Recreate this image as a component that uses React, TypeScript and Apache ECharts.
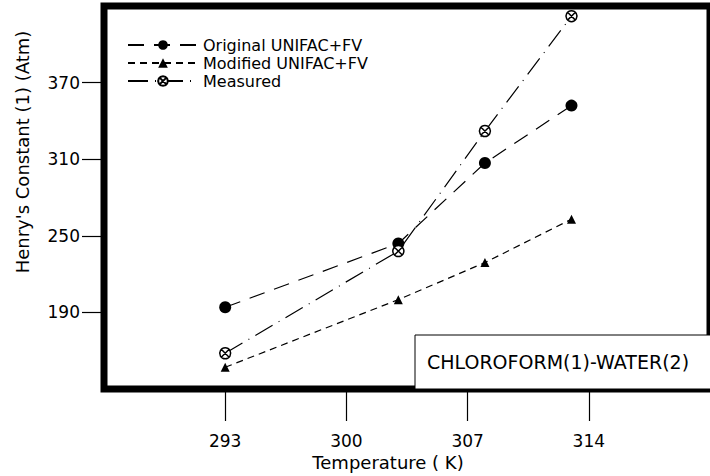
import React, { useEffect, useRef } from "react";
import * as echarts from "echarts";

const temperatures = [293, 303, 308, 313];
const originalValues = [194, 244, 307, 352];
const modifiedValues = [147, 200, 229, 263];
const measuredValues = [158, 238, 332, 422];
const xTickValues = [293, 300, 307, 314];
const yTickValues = [190, 250, 310, 370];

const FONT = "DejaVu Sans";
const measuredSymbol =
  "path://M10,1A9,9,0,1,1,9.99,1Z M3.6,3.6L16.4,16.4M16.4,3.6L3.6,16.4";

const pairs = (vals: number[]) => temperatures.map((t, i) => [t, vals[i]]);

export default function App() {
  const ref = useRef<HTMLDivElement>(null);
  useEffect(() => {
    if (!ref.current) return;
    const chart = echarts.init(ref.current, null, { renderer: "svg" });
    chart.setOption({
      animation: false,
      backgroundColor: "#ffffff",
      textStyle: { fontFamily: FONT, color: "#000" },
      grid: {
        left: 104,
        top: 6,
        width: 610,
        height: 383,
        show: true,
        borderColor: "#000",
        borderWidth: 7,
        backgroundColor: "transparent",
      },
      legend: {
        orient: "vertical",
        left: 122,
        top: 31,
        itemWidth: 70,
        itemHeight: 12,
        itemGap: 0,
        itemTextGap: 6,
        textStyle: { fontFamily: FONT, fontSize: 16, color: "#000", lineHeight: 18 },
        data: ["Original UNIFAC+FV", "Modified UNIFAC+FV", "Measured"],
      },
      xAxis: {
        type: "value",
        min: 286,
        max: 321,
        interval: 7,
        axisLine: { show: false },
        splitLine: { show: false },
        axisTick: {
          show: true,
          length: 32,
          customValues: xTickValues,
          lineStyle: { color: "#000", width: 1.2 },
        },
        axisLabel: {
          customValues: xTickValues,
          margin: 43,
          fontSize: 17,
          fontFamily: FONT,
          color: "#000",
        },
      },
      yAxis: {
        type: "value",
        min: 130,
        max: 430,
        interval: 60,
        axisLine: { show: false },
        splitLine: { show: false },
        axisTick: {
          show: true,
          length: 22,
          customValues: yTickValues,
          lineStyle: { color: "#000", width: 1.2 },
        },
        axisLabel: {
          customValues: yTickValues,
          margin: 24,
          fontSize: 17,
          fontFamily: FONT,
          color: "#000",
        },
      },
      graphic: [
        {
          type: "rect",
          shape: { x: 415, y: 335, width: 320, height: 54 },
          style: { fill: "#fff", stroke: "#000", lineWidth: 1 },
          z: 50,
        },
        {
          type: "text",
          x: 427,
          y: 362,
          style: {
            text: "CHLOROFORM(1)-WATER(2)",
            fontFamily: FONT,
            fontSize: 19,
            fill: "#000",
            textVerticalAlign: "middle",
          },
          z: 51,
        },
        {
          type: "text",
          x: 388,
          y: 462,
          style: {
            text: "Temperature ( K)",
            fontFamily: FONT,
            fontSize: 18,
            fill: "#000",
            textAlign: "center",
            textVerticalAlign: "middle",
          },
        },
        {
          type: "text",
          x: 22,
          y: 152,
          rotation: Math.PI / 2,
          style: {
            text: "Henry's Constant (1) (Atm)",
            fontFamily: FONT,
            fontSize: 18,
            fill: "#000",
            textAlign: "center",
            textVerticalAlign: "middle",
          },
        },
      ],
      series: [
        {
          name: "Original UNIFAC+FV",
          type: "line",
          data: pairs(originalValues),
          symbol: "circle",
          symbolSize: 12,
          itemStyle: { color: "#000" },
          lineStyle: { color: "#000", width: 1.2, type: [16, 10] },
        },
        {
          name: "Modified UNIFAC+FV",
          type: "line",
          data: pairs(modifiedValues),
          symbol: "triangle",
          symbolSize: 9,
          itemStyle: { color: "#000" },
          lineStyle: { color: "#000", width: 1.2, type: [7, 5] },
        },
        {
          name: "Measured",
          type: "line",
          data: pairs(measuredValues),
          symbol: measuredSymbol,
          symbolSize: 11,
          itemStyle: { color: "#fff", borderColor: "#000", borderWidth: 1.5 },
          lineStyle: { color: "#000", width: 1.2, type: [20, 7, 1, 7] },
        },
      ],
    });
    return () => chart.dispose();
  }, []);
  return (
    <div
      ref={ref}
      style={{ position: "fixed", left: 0, top: 0, width: 710, height: 476 }}
    />
  );
}
